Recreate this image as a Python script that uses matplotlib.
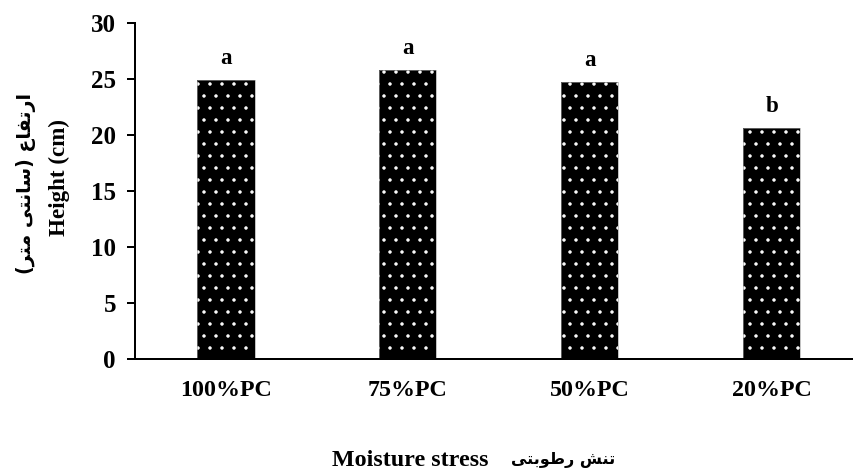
import matplotlib
matplotlib.use('Agg')
import matplotlib.pyplot as plt

categories = ['100%PC', '75%PC', '50%PC', '20%PC']
heights = [24.9, 25.8, 24.7, 20.6]
letters = ['a', 'a', 'a', 'b']
yticks = [0, 5, 10, 15, 20, 25, 30]

# persian text in presentation forms, visual order (matplotlib does no shaping)
ylabel_fa = ('(\ufeae\ufe98\ufee3 \ufbfd\ufe98\ufee7\ufe8e\ufeb3) '
             '\ufec9\ufe8e\ufed4\ufe97\ufead\ufe8d')
xlabel_fa = '\ufbfd\ufe98\ufe91\ufeee\ufec3\ufead \ufeb6\ufee8\ufe97'

DPI = 72
plt.rcParams['font.family'] = ['Liberation Serif', 'DejaVu Sans']
plt.rcParams['font.weight'] = 'bold'
plt.rcParams['hatch.linewidth'] = 1.0

fig = plt.figure(figsize=(853 / DPI, 470 / DPI), dpi=DPI)
ax = fig.add_axes([135 / 853, 111 / 470, 718 / 853, 336.3 / 470])

x = range(len(categories))
ax.bar(x, heights, width=0.314, color='black', edgecolor='white',
       linewidth=0, hatch='.')
ax.bar(x, heights, width=0.314, fill=False, edgecolor='#9a9a9a', linewidth=0.6)

for i in x:
  ax.annotate(letters[i], (i, heights[i]), xytext=(0, 16),
              textcoords='offset points', ha='center', va='baseline',
              fontsize=23, fontweight='bold')

ax.set_xlim(-0.5, 3.447)
ax.set_ylim(0, 30)
ax.set_yticks(yticks)
ax.set_xticks(list(x))
ax.set_xticklabels(categories)
ax.tick_params(axis='y', length=8, width=2, pad=11, labelsize=25)
ax.tick_params(axis='x', length=0, pad=21, labelsize=24)
for lab in ax.get_xticklabels() + ax.get_yticklabels():
  lab.set_fontweight('bold')

for s in ['top', 'right']:
  ax.spines[s].set_visible(False)
ax.spines['left'].set_linewidth(2)
ax.spines['bottom'].set_linewidth(2)

fig.text(26 / 853, 1 - 183 / 470, ylabel_fa, rotation=90, ha='center',
         va='center', fontsize=19, fontweight='bold',
         family=['DejaVu Sans'])
fig.text(59 / 853, 1 - 178 / 470, 'Height (cm)', rotation=90, ha='center',
         va='center', fontsize=23, fontweight='bold')
fig.text(410 / 853, 1 - 466 / 470, 'Moisture stress', ha='center',
         va='baseline', fontsize=24, fontweight='bold')
fig.text(563 / 853, 1 - 464 / 470, xlabel_fa, ha='center', va='baseline',
         fontsize=16, fontweight='bold', family=['DejaVu Sans'])

fig.savefig('out.png', dpi=DPI)
